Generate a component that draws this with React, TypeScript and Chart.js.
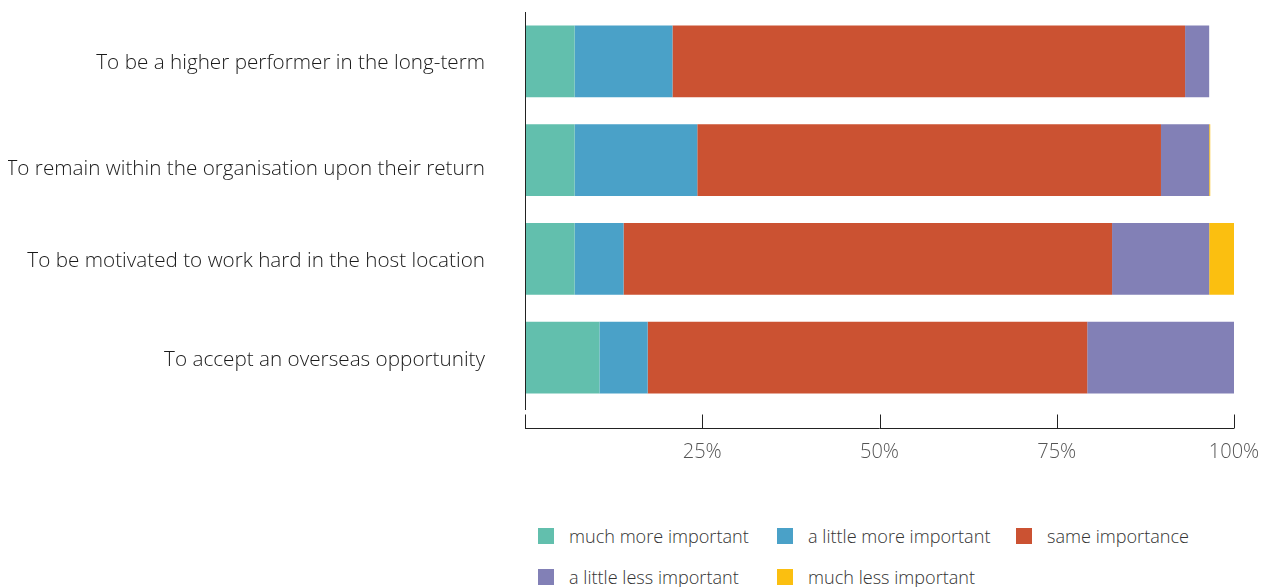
import React, { useEffect, useRef } from "react";
import { Chart, registerables } from "chart.js";

Chart.register(...registerables);

const categories = [
  "To be a higher performer in the long-term",
  "To remain within the organisation upon their return",
  "To be motivated to work hard in the host location",
  "To accept an overseas opportunity",
];

// the second label sits a little lower than its bar in the original
const labelDrop = [0, 6.5, 0, 0];

const seriesNames = [
  "much more important",
  "a little more important",
  "same importance",
  "a little less important",
  "much less important",
];

const seriesColors = ["#62BFAD", "#4AA1C8", "#CB5232", "#8280B6", "#FBBF10"];

const muchMore = [7.0, 7.0, 7.0, 10.5];
const littleMore = [13.8, 17.3, 6.9, 6.8];
const same = [72.3, 65.4, 68.9, 62.0];
const littleLess = [3.4, 6.8, 13.7, 20.7];
const muchLess = [0, 0.15, 3.5, 0];

const seriesValues = [muchMore, littleMore, same, littleLess, muchLess];

const xTicks = [0, 25, 50, 75, 100];

const FONT = "'Open Sans', 'Liberation Sans', Arial, sans-serif";

const axisPlugin = {
  id: "customAxes",
  afterDraw(chart: any) {
    const { ctx, chartArea, scales } = chart;
    const x = scales.x;
    const lineY = chartArea.bottom + 21.5;
    const x0 = Math.round(x.getPixelForValue(0)) + 0.5;
    ctx.save();
    ctx.strokeStyle = "#222";
    ctx.lineWidth = 1;
    ctx.beginPath();
    ctx.moveTo(x0, chartArea.top);
    ctx.lineTo(x0, chartArea.bottom + 3);
    ctx.moveTo(x.getPixelForValue(0), lineY);
    ctx.lineTo(x.getPixelForValue(100), lineY);
    xTicks.forEach((t) => {
      const px = Math.round(x.getPixelForValue(t)) + 0.5;
      ctx.moveTo(px, lineY);
      ctx.lineTo(px, chartArea.bottom + 7.5);
    });
    ctx.stroke();
    ctx.restore();
  },
};

export default function App() {
  const ref = useRef<HTMLCanvasElement | null>(null);

  useEffect(() => {
    if (!ref.current) return;
    const chart = new Chart(ref.current, {
      type: "bar",
      data: {
        labels: categories.map((c, i) => (labelDrop[i] ? ["", c] : c)),
        datasets: seriesNames.map((name, i) => ({
          label: name,
          data: seriesValues[i],
          backgroundColor: seriesColors[i],
          borderWidth: 0,
          categoryPercentage: 1,
          barPercentage: 0.729,
        })),
      },
      options: {
        indexAxis: "y",
        animation: false,
        responsive: false,
        maintainAspectRatio: false,
        layout: { padding: { top: 4, right: 29, bottom: 0, left: 0 } },
        plugins: {
          legend: { display: false },
          tooltip: { enabled: false },
        },
        scales: {
          x: {
            stacked: true,
            min: 0,
            max: 100,
            afterBuildTicks(scale: any) {
              scale.ticks = xTicks.map((v) => ({ value: v }));
            },
            afterFit(scale: any) {
              scale.height = 65;
              scale.paddingLeft = 0;
              scale.paddingRight = 0;
              scale.paddingTop = 0;
              scale.paddingBottom = 0;
            },
            grid: { display: false, drawTicks: false },
            border: { display: false },
            ticks: {
              padding: 33,
              color: "#555",
              font: { family: FONT, size: 20, weight: "300" },
              callback: (v: any) => (v === 0 ? "" : v + "%"),
            },
          },
          y: {
            stacked: true,
            afterFit(scale: any) {
              scale.width = 517;
              scale.paddingLeft = 0;
              scale.paddingRight = 0;
              scale.paddingTop = 0;
              scale.paddingBottom = 0;
            },
            grid: { display: false, drawTicks: false },
            border: { display: false },
            ticks: {
              padding: 40,
              labelOffset: 2,
              color: "#1a1a1a",
              font: (c: any) => ({
                family: FONT,
                size: 20.7,
                weight: "300",
                lineHeight: labelDrop[c.index] ? labelDrop[c.index] * 2 + "px" : 1.2,
              }),
            },
          },
        },
      },
      plugins: [axisPlugin],
    } as any);
    return () => chart.destroy();
  }, []);

  const legendRows = [seriesNames.slice(0, 3), seriesNames.slice(3)];

  return (
    <div style={{ width: 1255, fontFamily: FONT }}>
      <canvas ref={ref} width={1255} height={464} style={{ display: "block" }} />
      <div style={{ marginTop: 54, paddingLeft: 530 }}>
        {legendRows.map((row, r) => (
          <div key={r} style={{ display: "flex", height: 41 }}>
            {row.map((name) => {
              const idx = seriesNames.indexOf(name);
              return (
                <div
                  key={name}
                  style={{ width: 239, display: "flex", alignItems: "center", height: 20 }}
                >
                  <span
                    style={{
                      display: "inline-block",
                      width: 16,
                      height: 16,
                      background: seriesColors[idx],
                      marginRight: 15,
                      flexShrink: 0,
                    }}
                  />
                  <span style={{ fontSize: 18.1, fontWeight: 300, color: "#333", whiteSpace: "nowrap" }}>
                    {name}
                  </span>
                </div>
              );
            })}
          </div>
        ))}
      </div>
    </div>
  );
}
